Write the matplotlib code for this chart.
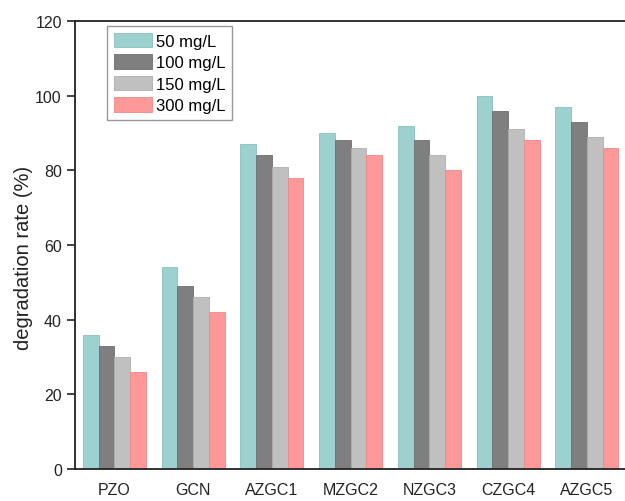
import matplotlib
matplotlib.use("Agg")
import matplotlib.pyplot as plt
import numpy as np

plt.rcParams["font.family"] = ["Liberation Sans", "DejaVu Sans"]

# data
samples = ["PZO", "GCN", "AZGC1", "MZGC2", "NZGC3", "CZGC4", "AZGC5"]
series_labels = ["50 mg/L", "100 mg/L", "150 mg/L", "300 mg/L"]
rate_50 = [36, 54, 87, 90, 92, 100, 97]
rate_100 = [33, 49, 84, 88, 88, 96, 93]
rate_150 = [30, 46, 81, 86, 84, 91, 89]
rate_300 = [26, 42, 78, 84, 80, 88, 86]

colors = ["#9dd1d0", "#7f7f7f", "#c0c0c0", "#ff9999"]
edges = ["#8cbcbc", "#6e6e6e", "#adadad", "#e88a8a"]


def main():
    fig = plt.figure(figsize=(6.25, 5.02), dpi=100)
    ax = fig.add_axes([0.12, 0.0637, 0.882, 0.8925])

    x = np.arange(len(samples))
    width = 0.2
    all_rates = [rate_50, rate_100, rate_150, rate_300]
    for i, vals in enumerate(all_rates):
        ax.bar(x + (i - 1.5) * width, vals, width,
               color=colors[i], edgecolor=edges[i], linewidth=0.6,
               label=series_labels[i])

    ax.set_xlim(-0.5, len(samples) - 0.5)
    ax.set_ylim(0, 120)
    ax.set_yticks(range(0, 121, 20))
    ax.set_xticks(x)
    ax.set_xticklabels(samples)
    ax.tick_params(axis="x", length=0, pad=9, labelsize=11.5,
                   colors="#222222")
    ax.tick_params(axis="y", direction="out", length=6, width=1.2,
                   pad=3.5, labelsize=11.5, colors="#222222")
    ax.set_ylabel("degradation rate (%)", fontsize=14.5, color="#222222")
    ax.yaxis.set_label_coords(-0.077, 0.473)

    for side in ["left", "bottom", "top"]:
        ax.spines[side].set_linewidth(1.3)
        ax.spines[side].set_color("#222222")
    ax.spines["right"].set_visible(False)

    leg = ax.legend(loc="upper left", bbox_to_anchor=(0.058, 0.989),
                    fontsize=12, handlelength=2.3, handleheight=1.0,
                    labelspacing=0.32, handletextpad=0.25,
                    borderpad=0.4, borderaxespad=0, fancybox=False,
                    framealpha=1)
    leg.get_frame().set_edgecolor("#999999")
    leg.get_frame().set_linewidth(1.0)

    fig.savefig("out.png", dpi=100)


if __name__ == "__main__":
    main()
